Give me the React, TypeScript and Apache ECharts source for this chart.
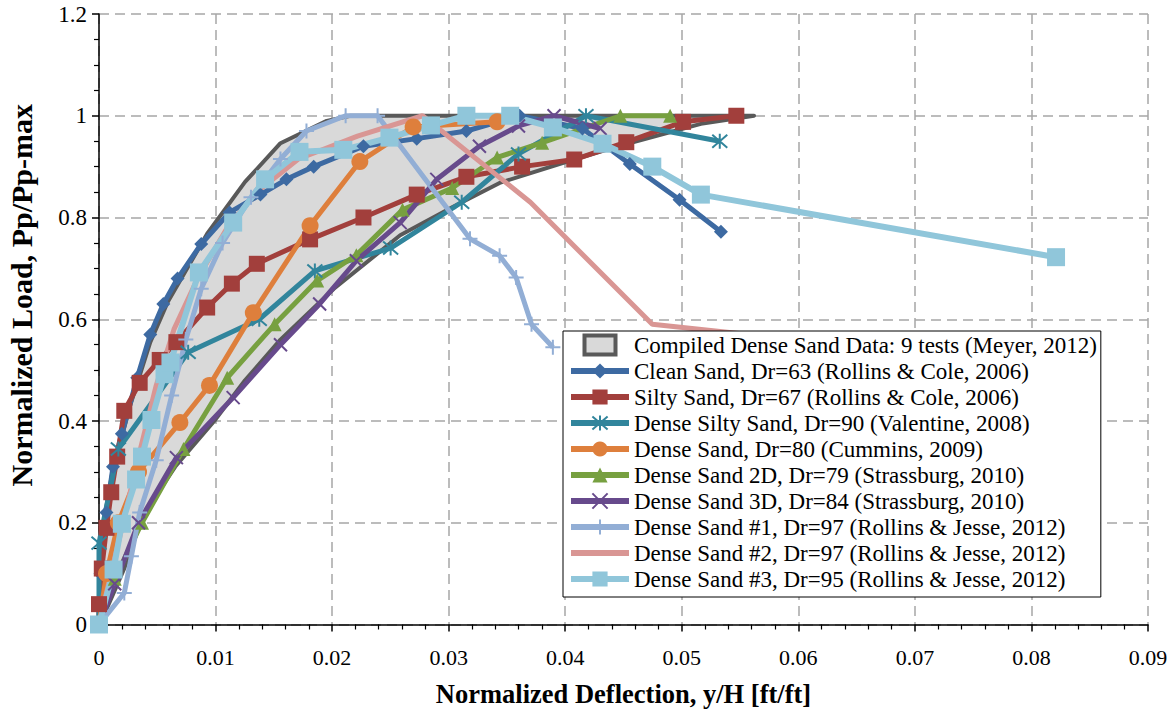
import React, { useEffect, useRef } from 'react';
import * as echarts from 'echarts';

const FONT = "'Liberation Serif', 'Times New Roman', serif";

const bandName = 'Compiled Dense Sand Data: 9 tests (Meyer, 2012)';
const upperEnvelope = [[0,0],[0.00024,0.18],[0.00115,0.3],[0.00267,0.43],[0.0044,0.555],[0.00592,0.635],[0.00928,0.768],[0.01253,0.87],[0.01557,0.946],[0.01954,0.99],[0.02157,1.0],[0.0562,1.0]];
const lowerEnvelope = [[0,0],[0.00074,0.035],[0.00217,0.11],[0.00379,0.215],[0.00653,0.31],[0.00989,0.40],[0.01253,0.48],[0.01557,0.56],[0.02015,0.66],[0.02584,0.765],[0.0303,0.82],[0.03437,0.868],[0.04046,0.912],[0.04453,0.94],[0.05164,0.984],[0.0562,1.0]];

const cleanSand = [[0,0],[0.00013,0.1],[0.00064,0.22],[0.0012,0.31],[0.00196,0.375],[0.00328,0.485],[0.0044,0.57],[0.00552,0.63],[0.00674,0.68],[0.00877,0.748],[0.0112,0.81],[0.01385,0.845],[0.01608,0.875],[0.01842,0.9],[0.02269,0.94],[0.02726,0.955],[0.03152,0.97],[0.03609,1.0],[0.04148,0.975],[0.04554,0.905],[0.04981,0.835],[0.05336,0.772]];
const siltySand = [[0,0],[0,0.04],[0.00024,0.11],[0.00064,0.19],[0.00105,0.26],[0.00156,0.33],[0.00217,0.42],[0.00349,0.475],[0.00521,0.52],[0.00664,0.555],[0.00928,0.623],[0.0114,0.67],[0.01354,0.709],[0.01811,0.757],[0.02269,0.80],[0.02726,0.845],[0.03152,0.88],[0.0363,0.9],[0.04077,0.914],[0.04524,0.948],[0.05011,0.988],[0.05468,1.0]];
const denseSiltySand = [[0,0],[0,0.16],[0.00166,0.345],[0.00765,0.535],[0.01375,0.60],[0.01852,0.695],[0.02502,0.74],[0.03112,0.83],[0.03599,0.925],[0.04178,1.0],[0.05326,0.95]];
const denseSandCummins = [[0,0],[0.00064,0.1],[0.00166,0.2],[0.00339,0.3],[0.00694,0.397],[0.00948,0.47],[0.01324,0.613],[0.01811,0.784],[0.02238,0.91],[0.02695,0.978],[0.03416,0.988]];
const denseSand2D = [[0,0],[0.00135,0.09],[0.00369,0.2],[0.00725,0.345],[0.011,0.485],[0.01507,0.59],[0.01872,0.676],[0.02208,0.726],[0.02604,0.815],[0.0303,0.858],[0.03416,0.918],[0.03802,0.947],[0.04473,1.0],[0.049,1.0]];
const denseSand3D = [[0,0],[0.00135,0.08],[0.00339,0.2],[0.00664,0.328],[0.01151,0.446],[0.01557,0.55],[0.01893,0.63],[0.02208,0.715],[0.02584,0.79],[0.02898,0.875],[0.03264,0.94],[0.03599,0.98],[0.03904,1.0],[0.043,0.975]];
const denseSand1 = [[0,0],[0.00217,0.062],[0.00278,0.134],[0.00349,0.22],[0.00491,0.323],[0.00623,0.45],[0.00745,0.56],[0.00877,0.66],[0.0106,0.75],[0.01304,0.84],[0.01557,0.915],[0.0178,0.97],[0.02116,1.0],[0.0239,1.0],[0.03183,0.758],[0.03437,0.725],[0.03579,0.682],[0.03711,0.59],[0.03894,0.545]];
const denseSand2 = [[0,0],[0.00186,0.18],[0.00339,0.33],[0.00491,0.47],[0.00643,0.58],[0.00846,0.68],[0.011,0.78],[0.01354,0.85],[0.0171,0.915],[0.02218,0.96],[0.02776,1.0],[0.03701,0.83],[0.04747,0.59],[0.0557,0.57]];
const denseSand3 = [[0,0],[0.00125,0.108],[0.00196,0.198],[0.00318,0.285],[0.00369,0.33],[0.0045,0.402],[0.00562,0.492],[0.00613,0.515],[0.00857,0.692],[0.01151,0.79],[0.01425,0.875],[0.0172,0.929],[0.02096,0.933],[0.02492,0.957],[0.02848,0.981],[0.03152,1.0],[0.03528,1.0],[0.03894,0.977],[0.0432,0.945],[0.04747,0.9],[0.05164,0.845],[0.08211,0.722]];

const ASTERISK = 'path://M5 0V10M0.7 0.7L9.3 9.3M9.3 0.7L0.7 9.3';
const XMARK = 'path://M0 0L10 10M10 0L0 10';
const PLUS = 'path://M5 0V10M0 5H10';
const NOMARK = 'path://M0 0L10 10';

type S = { name: string; data: number[][]; color: string; symbol: string; size: number; stroke?: boolean; width?: number; hide?: boolean };
const seriesDefs: S[] = [
  { name: 'Clean Sand, Dr=63 (Rollins & Cole, 2006)', data: cleanSand, color: '#3D6AA2', symbol: 'diamond', size: 14 },
  { name: 'Silty Sand, Dr=67 (Rollins & Cole, 2006)', data: siltySand, color: '#A23F3C', symbol: 'rect', size: 16 },
  { name: 'Dense Silty Sand, Dr=90 (Valentine, 2008)', data: denseSiltySand, color: '#31859C', symbol: ASTERISK, size: 15, stroke: true },
  { name: 'Dense Sand, Dr=80 (Cummins, 2009)', data: denseSandCummins, color: '#DE7F3C', symbol: 'circle', size: 17 },
  { name: 'Dense Sand 2D, Dr=79 (Strassburg, 2010)', data: denseSand2D, color: '#77A040', symbol: 'triangle', size: 14 },
  { name: 'Dense Sand 3D, Dr=84 (Strassburg, 2010)', data: denseSand3D, color: '#674A8C', symbol: XMARK, size: 13, stroke: true },
  { name: 'Dense Sand #1, Dr=97 (Rollins & Jesse, 2012)', data: denseSand1, color: '#92AED5', symbol: PLUS, size: 15, stroke: true },
  { name: 'Dense Sand #2, Dr=97 (Rollins & Jesse, 2012)', data: denseSand2, color: '#D99694', symbol: NOMARK, size: 10, hide: true },
  { name: 'Dense Sand #3, Dr=95 (Rollins & Jesse, 2012)', data: denseSand3, color: '#90C6DA', symbol: 'rect', size: 18, width: 6 },
];

export default function App() {
  const ref = useRef<HTMLDivElement>(null);
  useEffect(() => {
    if (!ref.current) return;
    const chart = echarts.init(ref.current, undefined, { renderer: 'svg' });
    const bandPoly = [...upperEnvelope, ...lowerEnvelope.slice().reverse()];
    const lineSeries = seriesDefs.map((d) => ({
      type: 'line',
      name: d.name,
      data: d.data,
      symbol: d.symbol,
      symbolSize: d.size,
      showSymbol: !d.hide,
      color: d.color,
      lineStyle: { color: d.color, width: d.width ?? 5 },
      itemStyle: d.stroke
        ? { color: d.color, borderColor: d.color, borderWidth: 2 }
        : { color: d.color, borderWidth: 0 },
      z: 3,
    }));
    const option: any = {
      animation: false,
      backgroundColor: '#fff',
      grid: { left: 99, right: 26, top: 14, bottom: 85.5, containLabel: false, outerBoundsMode: 'none' },
      xAxis: {
        type: 'value', min: 0, max: 0.09, interval: 0.01,
        name: 'Normalized Deflection, y/H [ft/ft]', nameLocation: 'middle', nameGap: 56,
        nameTextStyle: { fontFamily: FONT, fontSize: 26.5, fontWeight: 'bold', color: '#000' },
        axisLine: { lineStyle: { color: '#000', width: 1.5 } },
        axisTick: { show: true, length: 7, lineStyle: { color: '#000', width: 1.5 } },
        minorTick: { show: true, splitNumber: 5, length: 5, lineStyle: { color: '#000', width: 1.2 } },
        axisLabel: { fontFamily: FONT, fontSize: 22, color: '#000', margin: 22 },
        splitLine: { show: true, lineStyle: { color: '#A6A6A6', type: [10, 6], width: 1.5 } },
      },
      yAxis: {
        type: 'value', min: 0, max: 1.2, interval: 0.2,
        name: 'Normalized Load, Pp/Pp-max', nameLocation: 'middle', nameGap: 63,
        nameTextStyle: { fontFamily: FONT, fontSize: 30, fontWeight: 'bold', color: '#000', padding: [0, 0, 0, 48] },
        axisLine: { show: true, lineStyle: { color: '#000', width: 1.5 } },
        axisTick: { show: true, length: 7, lineStyle: { color: '#000', width: 1.5 } },
        minorTick: { show: true, splitNumber: 4, length: 5, lineStyle: { color: '#000', width: 1.2 } },
        axisLabel: { fontFamily: FONT, fontSize: 23, color: '#000', margin: 12 },
        splitLine: { show: true, lineStyle: { color: '#A6A6A6', type: [10, 6], width: 1.5 } },
      },
      legend: {
        orient: 'vertical', left: 563, top: 331,
        padding: [1, 4, 5, 5], itemGap: 0, itemWidth: 58, itemHeight: 19,
        borderColor: '#000', borderWidth: 1, backgroundColor: '#fff',
        lineStyle: { width: 6 },
        textStyle: { fontFamily: FONT, fontSize: 23, color: '#000', lineHeight: 26 },
        data: [
          { name: bandName, icon: 'path://M0 0H31V19H0Z', itemStyle: { color: '#D9D9D9', borderColor: '#595959', borderWidth: 4 } },
          ...seriesDefs.map((d) => ({ name: d.name })),
        ],
      },
      series: [
        {
          type: 'custom', name: bandName, data: [[0, 0]], z: 1, silent: true,
          itemStyle: { color: '#D9D9D9', borderColor: '#595959', borderWidth: 4 },
          renderItem: (params: any, api: any) => {
            if (params.dataIndex !== 0) return null;
            const pts = bandPoly.map((p) => api.coord(p));
            return {
              type: 'polygon',
              shape: { points: pts },
              style: { fill: '#D9D9D9', stroke: '#595959', lineWidth: 4, lineJoin: 'round' },
            };
          },
        },
        ...lineSeries,
      ],
    };
    chart.setOption(option);
    return () => chart.dispose();
  }, []);
  return <div ref={ref} style={{ position: 'fixed', left: 0, top: 0, width: 1174, height: 710 }} />;
}
